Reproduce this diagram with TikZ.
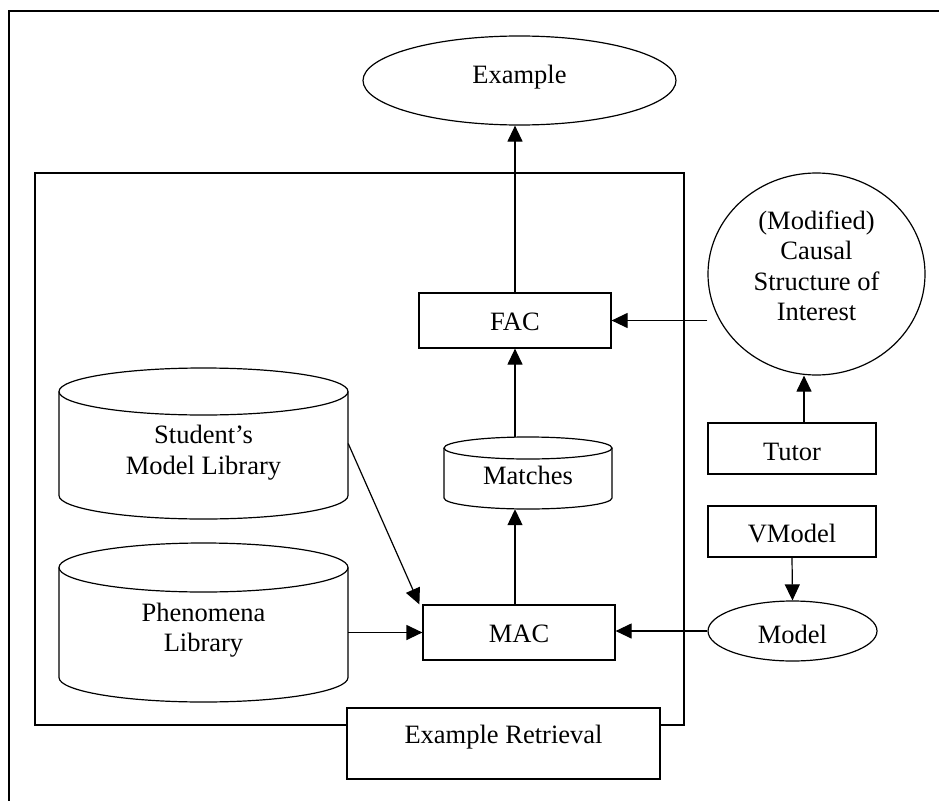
\documentclass[tikz,border=0pt]{standalone}
\usepackage{fontspec}
\setmainfont{Liberation Serif}
\usetikzlibrary{arrows.meta,shapes.geometric}
\begin{document}
\begin{tikzpicture}[x=1pt,y=1pt,
  every node/.style={font=\fontsize{26.5}{30.5}\selectfont},
  line/.style={line width=1.2pt},
  arr/.style={line width=1.2pt,-{Triangle[length=16pt,width=15pt]}},
  box/.style={draw,line width=1.2pt,rectangle,inner sep=0pt,fill=white},
  oval/.style={draw,line width=1.2pt,ellipse,inner sep=0pt,fill=white},
  hold/.style={inner sep=0pt},
  txt/.style={anchor=base,inner sep=0pt}]
\useasboundingbox (0,0) rectangle (939,-800);

% outer frame (runs off the page on the right and bottom)
\draw[line width=1.6pt] (9,-11) rectangle (952,-815);

% frame of the retrieval subsystem
\draw[line] (35,-173) rectangle (684,-725);

% Student's Model Library drum
\draw[line] (59,-391.5) -- (59,-495.5)
  arc[start angle=180,end angle=360,x radius=144.5,y radius=23.5] -- (348,-391.5);
\draw[line] (203.5,-391.5) ellipse[x radius=144.5,y radius=23.5];
\node[hold,minimum width=289pt,minimum height=151pt] (stud) at (203.5,-443.5) {};
\node[txt] (studA) at (203.5,-443) {Student’s};
\node[txt] (studB) at (203.5,-474) {Model Library};

% Phenomena Library drum
\draw[line] (59,-567.5) -- (59,-677.5)
  arc[start angle=180,end angle=360,x radius=144.5,y radius=24.5] -- (348,-567.5);
\draw[line] (203.5,-567.5) ellipse[x radius=144.5,y radius=24.5];
\node[hold,minimum width=289pt,minimum height=159pt] (phen) at (203.5,-622.5) {};
\node[txt] (phenA) at (203.5,-621.5) {Phenomena};
\node[txt] (phenB) at (203.5,-651.5) {Library};

% Matches drum
\draw[line] (444,-448) -- (444,-498)
  arc[start angle=180,end angle=360,x radius=84,y radius=11] -- (612,-448);
\draw[line] (528,-448) ellipse[x radius=84,y radius=11];
\node[hold,minimum width=168pt,minimum height=72pt] (mat) at (528,-473) {};
\node[txt] (matT) at (528,-484) {Matches};

% boxes and ovals
\node[oval,minimum width=313pt,minimum height=89pt] (ex) at (519.5,-80.5) {};
\node[txt] (exT) at (519.5,-83) {Example};

\node[box,minimum width=192pt,minimum height=55pt] (fac) at (515,-320.5) {};
\node[txt] (facT) at (515,-330) {FAC};

\node[box,minimum width=192pt,minimum height=55pt] (mac) at (519,-632.5) {};
\node[txt] (macT) at (519,-642) {MAC};

\node[oval,minimum width=217pt,minimum height=202pt] (cause) at (816.5,-274) {};
\node[txt] (causeA) at (816.5,-229) {(Modified)};
\node[txt] (causeB) at (816.5,-259) {Causal};
\node[txt] (causeC) at (816.5,-290) {Structure of};
\node[txt] (causeD) at (816.5,-320) {Interest};

\node[box,minimum width=168pt,minimum height=51pt] (tutor) at (792,-448.5) {};
\node[txt] (tutorT) at (792,-460) {Tutor};

\node[box,minimum width=168pt,minimum height=51pt] (vmodel) at (792,-531.5) {};
\node[txt] (vmodelT) at (792,-542) {VModel};

\node[oval,minimum width=169pt,minimum height=60pt] (model) at (792.5,-631) {};
\node[txt] (modelT) at (792.5,-643) {Model};

\node[box,minimum width=313pt,minimum height=71pt] (er) at (503.5,-743.5) {};
\node[txt] (erT) at (503.5,-743) {Example Retrieval};

% connectors
\draw[arr] (fac.north) -- (fac.north |- ex.south);
\draw[arr] (fac.south |- mat.north) -- (fac.south);
\draw[arr] (fac.south |- mac.north) -- (fac.south |- mat.south);
\draw[arr] (stud.east) -- ([xshift=-3pt]mac.north west);
\draw[arr] (mac.west -| phen.east) -- (mac.west);
\draw[arr] (model.west) -- (model.west -| mac.east);
\draw[arr] (cause.west |- fac.east) -- (fac.east);
\path ([xshift=12pt]tutor.north) coordinate (tutup);
\draw[arr] (tutup) -- (tutup |- cause.south);
\draw[arr] (vmodel.south) -- (model.north);
\end{tikzpicture}
\end{document}
